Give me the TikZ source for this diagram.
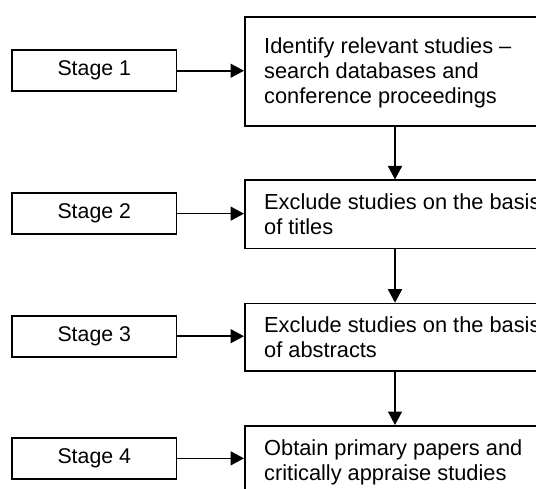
\documentclass[tikz,border=0pt]{standalone}
\usepackage{fontspec}
\setmainfont{Liberation Sans}
\usetikzlibrary{arrows.meta}
\begin{document}
\begin{tikzpicture}[x=1pt,y=-1pt,
  stagebox/.style={draw, line width=1.7pt, minimum width=164.5pt, minimum height=41pt, inner sep=0pt, font=\fontsize{21.3}{25}\selectfont},
  mainbox/.style={draw, line width=1.7pt, anchor=north west, inner sep=0pt, minimum width=316pt},
  boxtext/.style={anchor=north west, align=left, inner sep=0pt, font=\fontsize{21.8}{25}\selectfont},
  arr/.style={line width=1.7pt, -{Triangle[length=13.5pt,width=14pt]}}]
\useasboundingbox (0,0) rectangle (536,489);
\clip (0,0) rectangle (536,489);
% stage boxes
\node[stagebox] (s1) at (94.25,70.75) {Stage 1};
\node[stagebox] (s2) at (94.25,213.65) {Stage 2};
\node[stagebox] (s3) at (94.25,336.2) {Stage 3};
\node[stagebox] (s4) at (94.25,458.35) {Stage 4};
% main boxes
\node[mainbox, minimum height=109.5pt] (b1) at (244,16) {};
\node[mainbox, minimum height=68.2pt] (b2) at (244,179.5) {};
\node[mainbox, minimum height=67.3pt] (b3) at (244,302.7) {};
\node[mainbox, minimum height=67pt] (b4) at (244,425) {};
% texts
\node[boxtext] (t1) at (264,37.4) {Identify relevant studies --\\search databases and\\conference proceedings};
\node[boxtext] (t2) at (264,193.4) {Exclude studies on the basis\\of titles};
\node[boxtext] (t3) at (264,316.6) {Exclude studies on the basis\\of abstracts};
\node[boxtext] (t4) at (264,439.1) {Obtain primary papers and\\critically appraise studies};
% arrows
\coordinate (vx) at (395,0);
\draw[arr] (s1.east) -- (s1.east -| b1.west);
\draw[arr] (s2.east) -- (s2.east -| b2.west);
\draw[arr] (s3.east) -- (s3.east -| b3.west);
\draw[arr] (s4.east) -- (s4.east -| b4.west);
\draw[arr] (b1.south -| vx) -- (b2.north -| vx);
\draw[arr] (b2.south -| vx) -- (b3.north -| vx);
\draw[arr] (b3.south -| vx) -- (b4.north -| vx);
\end{tikzpicture}
\end{document}
